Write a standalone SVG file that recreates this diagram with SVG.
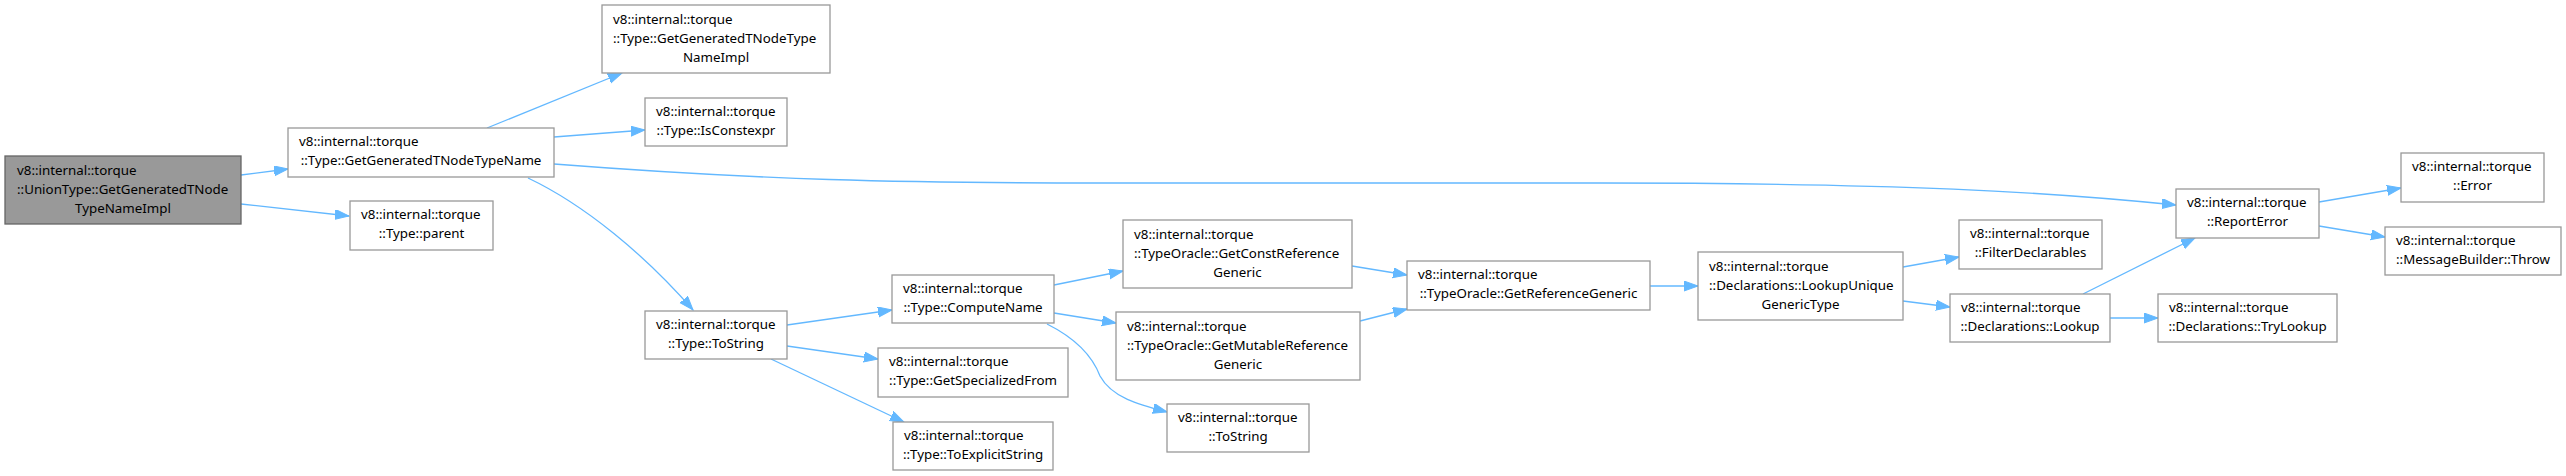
<svg xmlns="http://www.w3.org/2000/svg" width="2566" height="476" viewBox="0 0 2566 476">
<style>
.n rect{fill:#ffffff;stroke:#999999;stroke-width:1.3}
.root rect{fill:#999999;stroke:#666666;stroke-width:1.3}
text{font-family:"Noto Sans","DejaVu Sans",sans-serif;font-size:13.33px;fill:#000}
.c{text-anchor:middle}
.e path{fill:none;stroke:#63b8ff;stroke-width:1.3;marker-end:url(#ah)}
</style>
<defs>
<marker id="ah" markerUnits="userSpaceOnUse" markerWidth="15" markerHeight="11" refX="14" refY="5" orient="auto">
<path d="M0,0 L14,5 L0,10 Z" fill="#63b8ff" stroke="#63b8ff" stroke-width="1"/>
</marker>
</defs>
<rect width="2566" height="476" fill="#ffffff"/>
<g id="connectors" class="e">
<path d="M241,175 L288,169"/>
<path d="M241,204 L349,216"/>
<path d="M487,128 L622,73"/>
<path d="M554,137 L645,130"/>
<path d="M554,164 C760,180 900,183 1100,183 L1600,183 C1900,183 2050,192 2176,205"/>
<path d="M528,178 C585,205 645,255 693,310"/>
<path d="M787,325 L892,310"/>
<path d="M787,346 L878,359"/>
<path d="M771,359 L904,422"/>
<path d="M1054,285 L1123,271"/>
<path d="M1054,313 L1116,323"/>
<path d="M1047,324 C1075,338 1092,355 1100,376 C1112,398 1140,405 1167,412"/>
<path d="M1352,266 L1407,275"/>
<path d="M1360,321 L1407,309"/>
<path d="M1650,286 L1698,286"/>
<path d="M1903,267 L1959,257"/>
<path d="M1903,301 L1950,307"/>
<path d="M2083,294 L2195,238"/>
<path d="M2110,318 L2158,318"/>
<path d="M2319,202 L2401,188"/>
<path d="M2319,226 L2385,237"/>
</g>
<g id="n1" class="root"><rect x="5" y="156" width="236" height="68"/>
<text x="17" y="174.5">v8::internal::torque</text><text x="17" y="193.5">::UnionType::GetGeneratedTNode</text><text class="c" x="123" y="212.5">TypeNameImpl</text></g>
<g id="n2" class="n"><rect x="288" y="128" width="266" height="49"/>
<text x="299" y="146">v8::internal::torque</text><text class="c" x="421" y="165">::Type::GetGeneratedTNodeTypeName</text></g>
<g id="n3" class="n"><rect x="350" y="201" width="143" height="49"/>
<text x="361" y="219">v8::internal::torque</text><text class="c" x="421.5" y="238">::Type::parent</text></g>
<g id="n4" class="n"><rect x="602" y="5" width="228" height="68"/>
<text x="613" y="23.5">v8::internal::torque</text><text x="613" y="42.5">::Type::GetGeneratedTNodeType</text><text class="c" x="716" y="61.5">NameImpl</text></g>
<g id="n5" class="n"><rect x="645" y="98" width="142" height="48"/>
<text x="656" y="115.5">v8::internal::torque</text><text class="c" x="716" y="134.5">::Type::IsConstexpr</text></g>
<g id="n6" class="n"><rect x="645" y="311" width="142" height="48"/>
<text x="656" y="328.5">v8::internal::torque</text><text class="c" x="716" y="347.5">::Type::ToString</text></g>
<g id="n7" class="n"><rect x="892" y="275" width="162" height="48"/>
<text x="903" y="292.5">v8::internal::torque</text><text class="c" x="973" y="311.5">::Type::ComputeName</text></g>
<g id="n8" class="n"><rect x="878" y="348" width="190" height="49"/>
<text x="889" y="366">v8::internal::torque</text><text class="c" x="973" y="385">::Type::GetSpecializedFrom</text></g>
<g id="n9" class="n"><rect x="893" y="422" width="160" height="48"/>
<text x="904" y="439.5">v8::internal::torque</text><text class="c" x="973" y="458.5">::Type::ToExplicitString</text></g>
<g id="n10" class="n"><rect x="1123" y="220" width="229" height="68"/>
<text x="1134" y="238.5">v8::internal::torque</text><text x="1134" y="257.5">::TypeOracle::GetConstReference</text><text class="c" x="1237.5" y="276.5">Generic</text></g>
<g id="n11" class="n"><rect x="1116" y="312" width="244" height="68"/>
<text x="1127" y="330.5">v8::internal::torque</text><text x="1127" y="349.5">::TypeOracle::GetMutableReference</text><text class="c" x="1238" y="368.5">Generic</text></g>
<g id="n12" class="n"><rect x="1167" y="404" width="142" height="48"/>
<text x="1178" y="421.5">v8::internal::torque</text><text class="c" x="1238" y="440.5">::ToString</text></g>
<g id="n13" class="n"><rect x="1407" y="261" width="243" height="49"/>
<text x="1418" y="279">v8::internal::torque</text><text class="c" x="1528.5" y="298">::TypeOracle::GetReferenceGeneric</text></g>
<g id="n14" class="n"><rect x="1698" y="252" width="205" height="68"/>
<text x="1709" y="270.5">v8::internal::torque</text><text x="1709" y="289.5">::Declarations::LookupUnique</text><text class="c" x="1800.5" y="308.5">GenericType</text></g>
<g id="n15" class="n"><rect x="1959" y="220" width="143" height="49"/>
<text x="1970" y="238">v8::internal::torque</text><text class="c" x="2030.5" y="257">::FilterDeclarables</text></g>
<g id="n16" class="n"><rect x="1950" y="294" width="160" height="48"/>
<text x="1961" y="311.5">v8::internal::torque</text><text class="c" x="2030" y="330.5">::Declarations::Lookup</text></g>
<g id="n17" class="n"><rect x="2158" y="294" width="179" height="48"/>
<text x="2169" y="311.5">v8::internal::torque</text><text class="c" x="2247.5" y="330.5">::Declarations::TryLookup</text></g>
<g id="n18" class="n"><rect x="2176" y="189" width="143" height="49"/>
<text x="2187" y="207">v8::internal::torque</text><text class="c" x="2247.5" y="226">::ReportError</text></g>
<g id="n19" class="n"><rect x="2401" y="153" width="143" height="49"/>
<text x="2412" y="171">v8::internal::torque</text><text class="c" x="2472.5" y="190">::Error</text></g>
<g id="n20" class="n"><rect x="2385" y="227" width="176" height="48"/>
<text x="2396" y="244.5">v8::internal::torque</text><text class="c" x="2473" y="263.5">::MessageBuilder::Throw</text></g>
</svg>
